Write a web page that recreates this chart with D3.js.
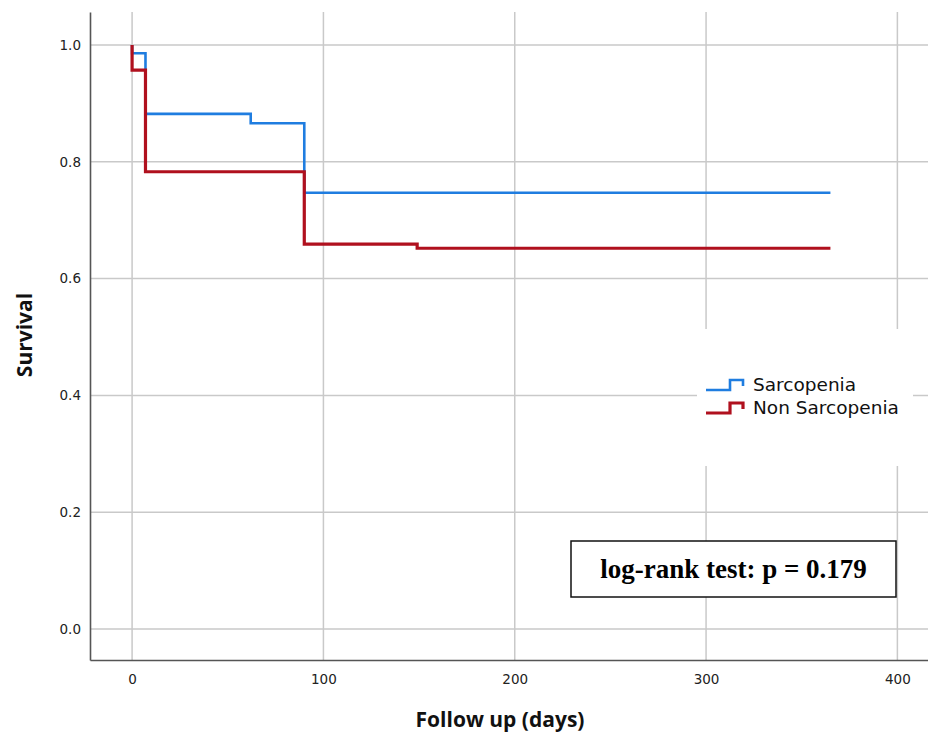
<!DOCTYPE html>
<html>
<head>
<meta charset="utf-8">
<script src="https://cdn.jsdelivr.net/npm/d3@7"></script>
<style>
  body { margin: 0; background: #fff; }
  svg { display: block; }
</style>
</head>
<body>
<div id="chart"></div>
<script>
// Kaplan-Meier step points: [day, survival]
const sarcopeniaSteps = [[0, 1], [0, 0.986], [7, 0.986], [7, 0.882], [62, 0.882], [62, 0.866], [90, 0.866], [90, 0.747], [365, 0.747]];
const nonSarcopeniaSteps = [[0, 1], [0, 0.957], [7, 0.957], [7, 0.783], [90, 0.783], [90, 0.659], [149, 0.659], [149, 0.652], [365, 0.652]];
const groupNames = ["Sarcopenia", "Non Sarcopenia"];
const groupColors = ["#1f7de0", "#b0101e"];
const xTicks = [0, 100, 200, 300, 400];
const yTicks = [0, 0.2, 0.4, 0.6, 0.8, 1.0];
const pValueText = "log-rank test: p = 0.179";

const width = 928, height = 733;
const margin = { top: 12, right: 0, bottom: 73, left: 90 };

const svg = d3.select("#chart")
    .append("svg")
    .attr("width", width)
    .attr("height", height);

// scales
const x = d3.scaleLinear()
    .domain([-22, 416])
    .range([margin.left, width - margin.right]);
const y = d3.scaleLinear()
    .domain([-0.053, 1.0565])
    .range([height - margin.bottom, margin.top]);

// gridlines
const grid = svg.append("g").attr("stroke", "#c9c9c9").attr("stroke-width", 1.5);
grid.selectAll(".vgrid")
    .data(xTicks)
    .enter()
    .append("line")
    .attr("x1", d => x(d)).attr("x2", d => x(d))
    .attr("y1", margin.top).attr("y2", height - margin.bottom);
grid.selectAll(".hgrid")
    .data(yTicks)
    .enter()
    .append("line")
    .attr("x1", margin.left).attr("x2", width - margin.right)
    .attr("y1", d => y(d)).attr("y2", d => y(d));

// axes
const xAxis = svg.append("g")
    .attr("transform", `translate(0, ${height - margin.bottom})`)
    .call(d3.axisBottom(x).tickValues(xTicks).tickSize(0).tickPadding(14).tickFormat(d3.format("d")));
const yAxis = svg.append("g")
    .attr("transform", `translate(${margin.left}, 0)`)
    .call(d3.axisLeft(y).tickValues(yTicks).tickSize(0).tickPadding(9).tickFormat(d3.format(".1f")));

[xAxis, yAxis].forEach(ax => {
    ax.select(".domain").attr("stroke", "#555").attr("stroke-width", 1.6);
    ax.selectAll("text")
        .attr("fill", "#222")
        .style("font-family", "DejaVu Sans, sans-serif")
        .style("font-size", "13.5px");
});

// white panel behind the legend (hides the grid there)
svg.append("rect")
    .attr("x", 697).attr("y", 329)
    .attr("width", 216).attr("height", 137)
    .attr("fill", "#fff");

// survival curves
const line = d3.line()
    .x(d => x(d[0]))
    .y(d => y(d[1]));

svg.append("path")
    .datum(sarcopeniaSteps)
    .attr("d", line)
    .attr("fill", "none")
    .attr("stroke", groupColors[0])
    .attr("stroke-width", 2.6);

svg.append("path")
    .datum(nonSarcopeniaSteps)
    .attr("d", line)
    .attr("fill", "none")
    .attr("stroke", groupColors[1])
    .attr("stroke-width", 3.2);

// legend
const legend = svg.append("g").attr("transform", "translate(706, 390)");
groupNames.forEach((name, i) => {
    const g = legend.append("g").attr("transform", `translate(0, ${i * 23})`);
    g.append("path")
        .attr("d", "M0,0 H24 V-10 H37 V-4")
        .attr("fill", "none")
        .attr("stroke", groupColors[i])
        .attr("stroke-width", i === 0 ? 2.6 : 3.2);
    g.append("text")
        .attr("x", 47)
        .attr("y", 1)
        .attr("fill", "#111")
        .style("font-family", "DejaVu Sans, sans-serif")
        .style("font-size", "18.5px")
        .text(name);
});

// p-value box
svg.append("rect")
    .attr("x", 571).attr("y", 541)
    .attr("width", 325).attr("height", 56)
    .attr("fill", "#fff")
    .attr("stroke", "#111")
    .attr("stroke-width", 1.5);
svg.append("text")
    .attr("x", 571 + 325 / 2)
    .attr("y", 578)
    .attr("text-anchor", "middle")
    .attr("fill", "#000")
    .style("font-family", "Liberation Serif, Times New Roman, serif")
    .style("font-weight", "bold")
    .style("font-size", "27px")
    .text(pValueText);

// axis titles
svg.append("text")
    .attr("x", 500)
    .attr("y", 727)
    .attr("text-anchor", "middle")
    .attr("fill", "#111")
    .style("font-family", "Liberation Sans Narrow, Open Sans, sans-serif")
    .style("font-weight", "bold")
    .style("font-size", "21px")
    .text("Follow up (days)");

svg.append("text")
    .attr("transform", "translate(32, 335) rotate(-90)")
    .attr("text-anchor", "middle")
    .attr("fill", "#111")
    .style("font-family", "Liberation Sans Narrow, Open Sans, sans-serif")
    .style("font-weight", "bold")
    .style("font-size", "21px")
    .text("Survival");
</script>
</body>
</html>
